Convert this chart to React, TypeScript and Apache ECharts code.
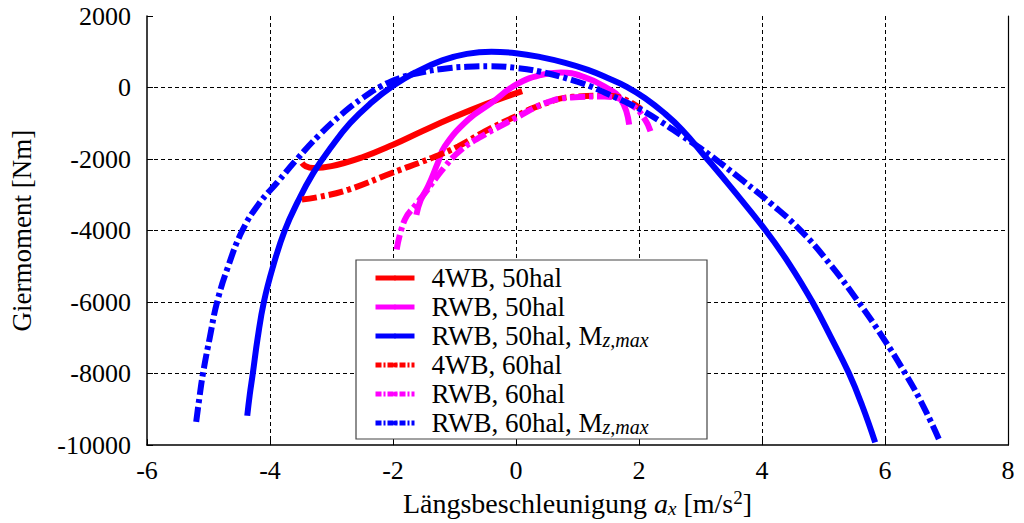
import React, { useEffect, useRef } from "react";
import * as echarts from "echarts";

const FONT = "'Liberation Serif', 'Times New Roman', serif";

// ---- data ----
const xTicks = [-6, -4, -2, 0, 2, 4, 6, 8];
const yTicks = [-10000, -8000, -6000, -4000, -2000, 0, 2000];

const seriesNames = [
  "4WB, 50hal",
  "RWB, 50hal",
  "RWB, 50hal, Mz,max",
  "4WB, 60hal",
  "RWB, 60hal",
  "RWB, 60hal, Mz,max",
];

const red50X = [-3.48, -3.42, -3.3, -3.0, -2.5, -2.0, -1.5, -1.0, -0.5, 0.1];
const red50Y = [-2110, -2200, -2250, -2200, -1950, -1600, -1200, -820, -470, -100];

const mag50X = [-1.62, -1.55, -1.43, -1.27, -1.16, -0.78, -0.4, 0.0, 0.4, 0.73, 1.1, 1.44, 1.71, 1.84];
const mag50Y = [-3560, -3150, -2763, -2100, -1646, -900, -430, 80, 350, 420, 300, 28, -343, -1040];

const blue50X = [-4.37, -4.33, -4.28, -4.2, -4.1, -3.95, -3.76, -3.55, -3.3, -3.02, -2.7, -2.35, -2.0, -1.64, -1.2, -0.8, -0.4, 0.0, 0.4, 0.8, 1.17, 1.5, 1.8, 2.1, 2.4, 2.7, 3.06, 3.5, 4.06, 4.45, 4.82, 5.12, 5.41, 5.63, 5.84];
const blue50Y = [-9180, -8600, -8000, -7000, -6000, -5000, -4000, -3200, -2400, -1700, -1000, -420, 50, 420, 760, 940, 1000, 960, 850, 690, 494, 260, 20, -300, -700, -1180, -1900, -2800, -4000, -4950, -6000, -6980, -7980, -8900, -9925];

const red60X = [-3.48, -3.2, -2.72, -2.02, -1.37, -0.94, -0.5, 0.0, 0.36, 0.92, 1.52, 2.03];
const red60Y = [-3130, -3060, -2855, -2390, -1970, -1646, -1220, -800, -520, -260, -230, -600];

const mag60X = [-1.94, -1.81, -1.64, -1.48, -1.15, -0.89, -0.56, 0.0, 0.5, 0.9, 1.44, 1.87, 2.1, 2.2];
const mag60Y = [-4530, -3700, -3300, -2950, -2200, -1740, -1367, -850, -420, -280, -251, -483, -900, -1300];

const blue60X = [-5.2, -5.15, -5.09, -4.98, -4.86, -4.68, -4.45, -4.18, -3.88, -3.56, -3.2, -2.83, -2.5, -2.2, -1.9, -1.6, -1.2, -0.8, -0.4, 0.0, 0.4, 0.9, 1.2, 1.44, 1.75, 2.03, 2.35, 2.68, 3.0, 3.3, 3.7, 4.15, 4.63, 5.1, 5.57, 5.95, 6.33, 6.62, 6.9];
const blue60Y = [-9350, -8700, -8000, -7000, -6000, -5000, -4000, -3250, -2650, -2000, -1330, -740, -300, 30, 260, 400, 520, 580, 595, 550, 440, 215, 40, -140, -380, -620, -950, -1330, -1700, -2080, -2620, -3250, -4000, -4930, -6000, -6950, -8000, -8900, -9925];

const colors = ["#ff0000", "#ff00ff", "#0000ff", "#ff0000", "#ff00ff", "#0000ff"];
const dashed = [false, false, false, true, true, true];
const xs = [red50X, mag50X, blue50X, red60X, mag60X, blue60X];
const ys = [red50Y, mag50Y, blue50Y, red60Y, mag60Y, blue60Y];

const DASH_DOT = [15, 4, 4, 4];
const LEGEND_DASH = [6, 2, 2, 2];

export default function App() {
  const ref = useRef<HTMLDivElement>(null);
  useEffect(() => {
    const chart = echarts.init(ref.current!, null, { renderer: "svg" });
    const series = seriesNames.map((name, k) => ({
      name,
      type: "line",
      data: xs[k].map((x, i) => [x, ys[k][i]]),
      smooth: 0.45,
      symbol: "none",
      showSymbol: false,
      itemStyle: { color: colors[k] },
      lineStyle: {
        color: colors[k],
        width: 6,
        type: dashed[k] ? DASH_DOT : "solid",
        cap: "butt",
      },
      z: 2 + k * 0.01,
    }));

    const option: any = {
      animation: false,
      backgroundColor: "#fff",
      grid: { left: 145, right: 16, top: 16, bottom: 77 },
      xAxis: {
        type: "value",
        min: xTicks[0],
        max: xTicks[xTicks.length - 1],
        interval: 2,
        name: "Längsbeschleunigung {i|a}{sub|x} [m/s{sup|2}]",
        nameLocation: "middle",
        nameGap: 37,
        nameTextStyle: {
          fontFamily: FONT,
          fontSize: 28,
          color: "#000",
          lineHeight: 30,
          verticalAlign: "top",
          rich: {
            i: { fontFamily: FONT, fontStyle: "italic", fontSize: 28, lineHeight: 30, color: "#000" },
            sub: { fontFamily: FONT, fontStyle: "italic", fontSize: 19, lineHeight: 15, verticalAlign: "bottom", color: "#000" },
            sup: { fontFamily: FONT, fontSize: 19, lineHeight: 15, verticalAlign: "top", color: "#000" },
          },
        },
        axisLine: { show: true, onZero: false, lineStyle: { color: "#000", width: 1.5 } },
        axisTick: { show: true, inside: true, length: 6, lineStyle: { color: "#000" } },
        axisLabel: { fontFamily: FONT, fontSize: 26, color: "#000", margin: 12, formatter: (v: number) => String(v) },
        splitLine: {
          show: true,
          showMinLine: false,
          showMaxLine: false,
          lineStyle: { color: "#000", width: 1, type: [4, 3] },
        },
      },
      yAxis: [
        {
          type: "value",
          min: yTicks[0],
          max: yTicks[yTicks.length - 1],
          interval: 2000,
          name: "Giermoment [Nm]",
          nameLocation: "middle",
          nameGap: 112,
          nameTextStyle: { fontFamily: FONT, fontSize: 27, color: "#000" },
          axisLine: { show: true, onZero: false, lineStyle: { color: "#000", width: 1.5 } },
          axisTick: { show: true, inside: true, length: 6, lineStyle: { color: "#000" } },
          axisLabel: { fontFamily: FONT, fontSize: 26, color: "#000", margin: 16, formatter: (v: number) => String(v) },
          splitLine: {
            show: true,
            showMinLine: false,
            showMaxLine: false,
            lineStyle: { color: "#000", width: 1, type: [4, 3] },
          },
        },
        {
          type: "value",
          position: "right",
          min: yTicks[0],
          max: yTicks[yTicks.length - 1],
          interval: 2000,
          axisLine: { show: true, onZero: false, lineStyle: { color: "#000", width: 1.2 } },
          axisTick: { show: false },
          axisLabel: { show: false },
          splitLine: { show: false },
        },
      ],
      legend: {
        orient: "vertical",
        left: 373,
        top: 264,
        padding: 0,
        itemWidth: 39,
        itemHeight: 6,
        itemGap: 1,
        selectedMode: false,
        data: seriesNames.map((name, k) => ({
          name,
          lineStyle: { color: colors[k], width: 5, type: dashed[k] ? LEGEND_DASH : "solid", cap: "butt" },
        })),
        formatter: (n: string) => n.replace("Mz,max", "M{sub|z,max}"),
        textStyle: {
          fontFamily: FONT,
          fontSize: 27,
          color: "#000",
          lineHeight: 28,
          padding: [0, 0, 0, 12],
          rich: {
            sub: {
              fontFamily: FONT,
              fontStyle: "italic",
              fontSize: 20,
              lineHeight: 17,
              verticalAlign: "bottom",
              color: "#000",
            },
          },
        },
        z: 5,
      },
      graphic: [
        {
          type: "rect",
          z: 3,
          shape: { x: 356, y: 260, width: 351, height: 179 },
          style: { fill: "#fff", stroke: "#444", lineWidth: 1.2 },
        },
      ],
      series,
    };
    chart.setOption(option);
    return () => chart.dispose();
  }, []);
  return (
    <div
      ref={ref}
      style={{ position: "absolute", left: 0, top: 0, width: 1024, height: 523 }}
    />
  );
}
